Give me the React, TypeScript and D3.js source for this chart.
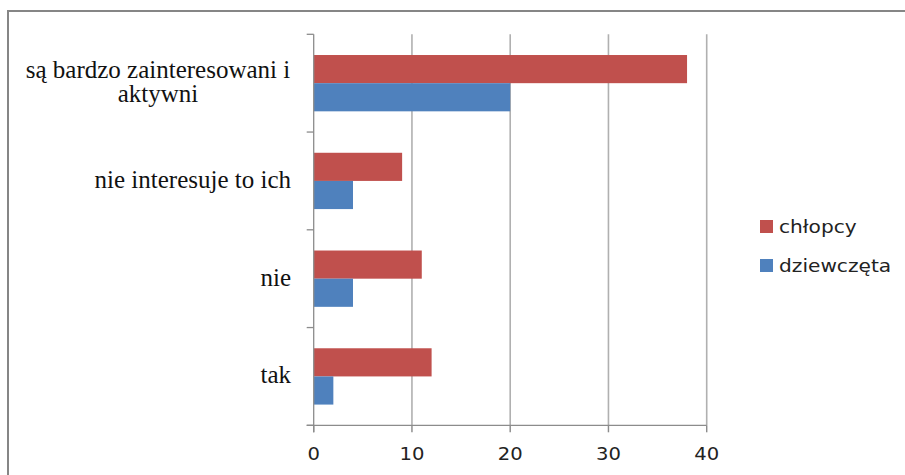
import React from "react";
import * as d3 from "d3";

// Survey answers (top to bottom) and counts per group
const categories = ["są bardzo zainteresowani i aktywni", "nie interesuje to ich", "nie", "tak"];
const categoryLines = [["są bardzo zainteresowani i", "aktywni"], ["nie interesuje to ich"], ["nie"], ["tak"]];
const seriesNames = ["chłopcy", "dziewczęta"];
const chlopcy = [38, 9, 11, 12];
const dziewczeta = [20, 4, 4, 2];
const xTicks = [0, 10, 20, 30, 40];

const COLORS = ["#C0504D", "#4F81BD"];
const W = 905;
const H = 475;

export default function App() {
  const values = [chlopcy, dziewczeta];
  const x = d3.scaleLinear().domain([0, 40]).range([313.7, 706.7]);
  const y = d3.scaleBand<string>().domain(categories).range([34.3, 425.3]).padding(0);
  const inner = d3
    .scaleBand<string>()
    .domain(seriesNames)
    .range([0, y.bandwidth()])
    .paddingInner(0)
    .paddingOuter(0.736);

  const [y0, y1] = y.range();
  const boundaries = categories.map((c) => y(c) as number).concat([y1]);

  return (
    <svg
      width={W}
      height={H}
      viewBox={`0 0 ${W} ${H}`}
      style={{ position: "absolute", left: 0, top: 0, background: "#fff" }}
    >
      <rect x={0} y={0} width={W} height={H} fill="#fff" />
      {/* chart frame */}
      <rect x={8} y={11} width={W + 20} height={H + 20} fill="none" stroke="#868686" strokeWidth={2} />

      {/* vertical gridlines */}
      {xTicks.slice(1).map((t) => (
        <line key={"g" + t} x1={x(t)} x2={x(t)} y1={y0} y2={y1} stroke="#b0b0b0" strokeWidth={1.6} />
      ))}

      {/* bars */}
      {categories.map((c, i) =>
        seriesNames.map((s, j) => (
          <rect
            key={c + s}
            x={x(0)}
            y={(y(c) as number) + (inner(s) as number)}
            width={x(values[j][i]) - x(0)}
            height={inner.bandwidth()}
            fill={COLORS[j]}
          />
        ))
      )}

      {/* category axis */}
      <line x1={x(0)} x2={x(0)} y1={y0} y2={y1 + 7} stroke="#8c8c8c" strokeWidth={1.3} />
      {boundaries.map((b, i) => (
        <line key={"yt" + i} x1={x(0) - 7} x2={x(0)} y1={b} y2={b} stroke="#8c8c8c" strokeWidth={1.3} />
      ))}

      {/* value axis */}
      <line x1={x(0) - 7} x2={x(40)} y1={y1} y2={y1} stroke="#8c8c8c" strokeWidth={1.3} />
      {xTicks.map((t) => (
        <g key={"xt" + t} transform={`translate(${x(t)}, 460) scale(1.12, 1)`}>
          <line x1={0} x2={0} y1={y1 - 460} y2={y1 - 453} stroke="#8c8c8c" strokeWidth={1.3} />
          <text
            x={0}
            y={0}
            textAnchor="middle"
            fontFamily="DejaVu Sans, sans-serif"
            fontSize={17.5}
            fill="#222"
          >
            {t}
          </text>
        </g>
      ))}

      {/* category labels */}
      {categories.map((c, i) => {
        const lines = categoryLines[i];
        const cy = (y(c) as number) + y.bandwidth() / 2;
        const lh = 24;
        const multi = lines.length > 1;
        return (
          <text
            key={"cl" + c}
            fontFamily="Liberation Serif, Times New Roman, serif"
            fontSize={25}
            fill="#111"
            textAnchor={multi ? "middle" : "end"}
          >
            {lines.map((ln, k) => (
              <tspan
                key={k}
                x={multi ? 158 : 291}
                y={cy + 7 + (k - (lines.length - 1) / 2) * lh}
              >
                {ln}
              </tspan>
            ))}
          </text>
        );
      })}

      {/* legend */}
      {seriesNames.map((s, j) => (
        <g key={"lg" + s} transform={`translate(760, ${220 + j * 39})`}>
          <rect x={0} y={0} width={13} height={13} fill={COLORS[j]} />
          <text
            transform="translate(19, 13) scale(1.12, 1)"
            fontFamily="DejaVu Sans, sans-serif"
            fontSize={18}
            fill="#222"
          >
            {s}
          </text>
        </g>
      ))}
    </svg>
  );
}
